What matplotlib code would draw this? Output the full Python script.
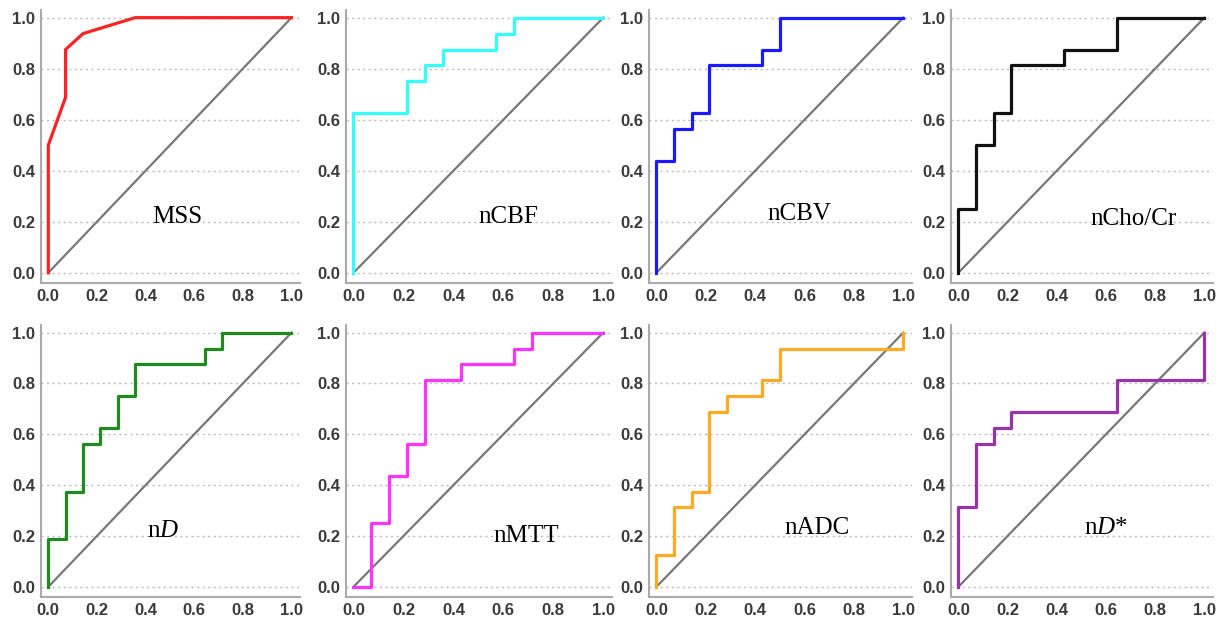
import matplotlib
matplotlib.use("Agg")
import matplotlib.pyplot as plt

# ROC curves: false positive rate (x) and true positive rate (y)
mss_x = [0, 0, 0.071, 0.071, 0.143, 0.357, 1.0]
mss_y = [0, 0.5, 0.6875, 0.875, 0.9375, 1.0, 1.0]

ncbf_x = [0, 0, 0.214, 0.214, 0.286, 0.286, 0.357, 0.357, 0.571, 0.571, 0.643, 0.643, 1.0]
ncbf_y = [0, 0.625, 0.625, 0.75, 0.75, 0.8125, 0.8125, 0.875, 0.875, 0.9375, 0.9375, 1.0, 1.0]

ncbv_x = [0, 0, 0.071, 0.071, 0.143, 0.143, 0.214, 0.214, 0.429, 0.429, 0.5, 0.5, 1.0]
ncbv_y = [0, 0.4375, 0.4375, 0.5625, 0.5625, 0.625, 0.625, 0.8125, 0.8125, 0.875, 0.875, 1.0, 1.0]

ncho_x = [0, 0, 0.071, 0.071, 0.143, 0.143, 0.214, 0.214, 0.429, 0.429, 0.643, 0.643, 1.0]
ncho_y = [0, 0.25, 0.25, 0.5, 0.5, 0.625, 0.625, 0.8125, 0.8125, 0.875, 0.875, 1.0, 1.0]

nd_x = [0, 0, 0.071, 0.071, 0.143, 0.143, 0.214, 0.214, 0.286, 0.286, 0.357, 0.357,
        0.643, 0.643, 0.714, 0.714, 1.0]
nd_y = [0, 0.1875, 0.1875, 0.375, 0.375, 0.5625, 0.5625, 0.625, 0.625, 0.75, 0.75, 0.875,
        0.875, 0.9375, 0.9375, 1.0, 1.0]

nmtt_x = [0, 0.071, 0.071, 0.143, 0.143, 0.214, 0.214, 0.286, 0.286, 0.429, 0.429,
          0.643, 0.643, 0.714, 0.714, 1.0]
nmtt_y = [0, 0, 0.25, 0.25, 0.4375, 0.4375, 0.5625, 0.5625, 0.8125, 0.8125, 0.875,
          0.875, 0.9375, 0.9375, 1.0, 1.0]

nadc_x = [0, 0, 0.071, 0.071, 0.143, 0.143, 0.214, 0.214, 0.286, 0.286, 0.429, 0.429,
          0.5, 0.5, 1.0, 1.0]
nadc_y = [0, 0.125, 0.125, 0.3125, 0.3125, 0.375, 0.375, 0.6875, 0.6875, 0.75, 0.75, 0.8125,
          0.8125, 0.9375, 0.9375, 1.0]

ndstar_x = [0, 0, 0.071, 0.071, 0.143, 0.143, 0.214, 0.214, 0.643, 0.643, 1.0, 1.0]
ndstar_y = [0, 0.3125, 0.3125, 0.5625, 0.5625, 0.625, 0.625, 0.6875, 0.6875, 0.8125, 0.8125, 1.0]

names = ["MSS", "nCBF", "nCBV", "nCho/Cr", r"n$\mathit{D}$", "nMTT", "nADC", r"n$\mathit{D}$*"]
xs = [mss_x, ncbf_x, ncbv_x, ncho_x, nd_x, nmtt_x, nadc_x, ndstar_x]
ys = [mss_y, ncbf_y, ncbv_y, ncho_y, nd_y, nmtt_y, nadc_y, ndstar_y]
colors = ["#ff2222", "#33ffff", "#1a1aff", "#111111", "#1f8a1f", "#ff33ff", "#ffaa22", "#9933aa"]
label_pos = [(0.53, 0.22), (0.62, 0.22), (0.58, 0.23), (0.71, 0.21),
             (0.47, 0.22), (0.69, 0.20), (0.65, 0.23), (0.60, 0.23)]

plt.rcParams["mathtext.fontset"] = "custom"
plt.rcParams["mathtext.it"] = "Liberation Serif:italic"
plt.rcParams["mathtext.rm"] = "Liberation Serif"

fig = plt.figure(figsize=(12.24, 6.22), dpi=100)
W, H = 1224, 622
lefts = [41, 346, 649, 951]
widths = [259, 266, 263, 262]
rows = [(10, 283), (325, 597)]

for i in range(8):
    r, c = divmod(i, 4)
    top, bot = rows[r]
    ax = fig.add_axes([lefts[c] / W, 1 - bot / H, widths[c] / W, (bot - top) / H])
    ax.set_xlim(-0.03, 1.035)
    ax.set_ylim(-0.04, 1.03)
    for y in [0, 0.2, 0.4, 0.6, 0.8, 1.0]:
        ax.axhline(y, color="#bbbbbb", lw=1, ls=(0, (1.5, 2.5)), zorder=0)
    ax.plot([0, 1], [0, 1], color="#777777", lw=1.6, zorder=2)
    ax.plot(xs[i], ys[i], color=colors[i], lw=2.3, zorder=3)
    ax.text(label_pos[i][0], label_pos[i][1], names[i], fontsize=18,
            family="Liberation Serif", ha="center", va="center")
    for s in ["top", "right"]:
        ax.spines[s].set_visible(False)
    for s in ["left", "bottom"]:
        ax.spines[s].set_color("#aaaaaa")
        ax.spines[s].set_linewidth(1.5)
    ax.set_xticks([0, 0.2, 0.4, 0.6, 0.8, 1.0])
    ax.set_yticks([0, 0.2, 0.4, 0.6, 0.8, 1.0])
    ax.tick_params(length=0, labelsize=12, pad=4)
    for lab in ax.get_xticklabels() + ax.get_yticklabels():
        lab.set_family("Liberation Sans")
        lab.set_weight("bold")
        lab.set_color("#3a3a3a")

fig.savefig("out.png", dpi=100)
